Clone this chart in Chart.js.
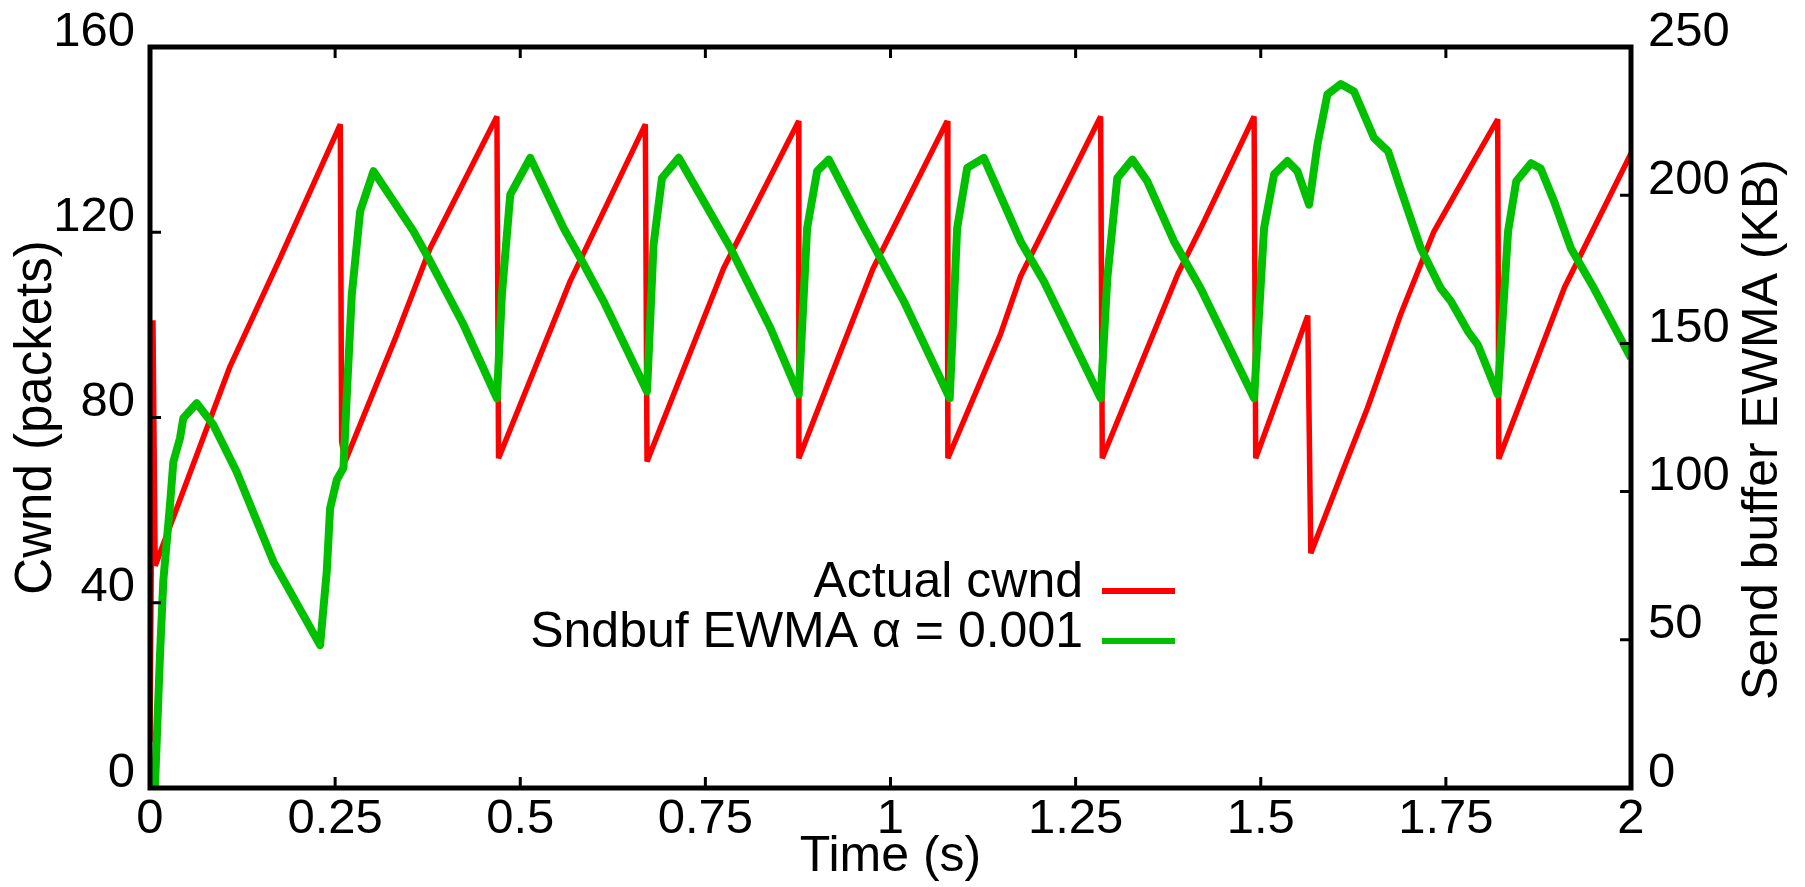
<!DOCTYPE html>
<html>
<head>
  <title>Cwnd vs Sndbuf EWMA</title>
  <script src="https://cdn.jsdelivr.net/npm/chart.js"></script>
  <style>
    body { margin: 0; background: #fff; }
    #contenedor { width: 1805px; height: 887px; }
  </style>
</head>
<body>
  <div id="contenedor">
    <canvas id="myChart"></canvas>
  </div>

  <script>
    // tick labels
    var xTicks = [0, 0.25, 0.5, 0.75, 1, 1.25, 1.5, 1.75, 2];
    var cwndTicks = [0, 40, 80, 120, 160];
    var sndbufTicks = [0, 50, 100, 150, 200, 250];

    // Actual cwnd (packets)
    var cwndTime = [0, 0.004, 0.007, 0.108, 0.1757, 0.257, 0.2588, 0.2635, 0.3333, 0.3784, 0.4685,
      0.4707, 0.5676, 0.6689, 0.6712, 0.7748, 0.8761, 0.8763, 0.976, 1.0766, 1.0775, 1.1486, 1.1757, 1.2838,
      1.286, 1.388, 1.419, 1.491, 1.4932, 1.5635, 1.5676, 1.612, 1.644, 1.689, 1.734, 1.78, 1.82,
      1.8215, 1.91, 2.0];
    var cwnd = [10, 101, 48, 91, 114.4, 143.3, 74.8, 70.5, 97.9, 116.6, 145,
      71.2, 109.5, 143.3, 70.5, 112.3, 144, 71.2, 112, 144, 71.2, 98, 110.5, 145,
      71.2, 111, 120.9, 145, 71.2, 102, 50.7, 69, 82, 102.3, 120.2, 133.2, 144.4,
      71.1, 108, 137];

    // Sndbuf EWMA (KB)
    var sndTime = [0, 0.0068, 0.0135, 0.018, 0.027, 0.0315, 0.0405, 0.045, 0.063, 0.0856, 0.117, 0.1667,
      0.2297, 0.2387, 0.2432, 0.2523, 0.2613, 0.2658, 0.2725, 0.2838, 0.3018, 0.3288, 0.3559, 0.3784,
      0.4234, 0.4685, 0.4752, 0.4865, 0.5135, 0.5586, 0.5811, 0.6126, 0.6712, 0.68, 0.6914, 0.714,
      0.7477, 0.7838, 0.8378, 0.8761, 0.8874, 0.9009, 0.9167, 0.9595, 1.018, 1.08, 1.09, 1.1036,
      1.126, 1.1757, 1.2072, 1.2838, 1.2928, 1.3063, 1.3266, 1.3468, 1.3829, 1.4189, 1.491, 1.5045,
      1.518, 1.536, 1.5495, 1.5653, 1.5766, 1.59, 1.608, 1.626, 1.653, 1.672, 1.689, 1.716, 1.743,
      1.7568, 1.78, 1.793, 1.82, 1.827, 1.834, 1.845, 1.865, 1.878, 1.896, 1.919, 1.95, 2.0];
    var sndbuf = [0, 1, 44.8, 70, 95.5, 110, 118, 124.8, 129.8, 122.5, 106.7, 76.3,
      48.2, 73, 94.3, 104, 108, 132.7, 166.4, 194.6, 208.1, 198, 187.8, 177.7,
      156.3, 131.5, 166.4, 200.2, 212.6, 188.9, 178.8, 164.2, 133.8, 183.3, 205.8, 212.6,
      198, 182.2, 155.2, 132.7, 188.9, 208.1, 212, 191.2, 164.2, 131.5, 188.9, 209.2,
      212.6, 184.4, 170.9, 131.5, 172, 205.8, 212, 204.7, 184.4, 168.5, 131.5, 188.9,
      207, 211.5, 208.1, 196.8, 217.1, 234, 237.5, 235, 219.3, 214.8, 202, 182.2, 168.6,
      164.2, 154, 149.6, 132.8, 159.8, 187.8, 204.7, 210.8, 209, 198, 182, 168.6, 145];

    var FONT = "'Liberation Sans', Arial, sans-serif";
    Chart.defaults.font.family = FONT;
    Chart.defaults.font.size = 49;
    Chart.defaults.color = '#000';

    function pares(xs, ys) {
      var out = [];
      for (var i = 0; i < xs.length; i++) out.push({ x: xs[i], y: ys[i] });
      return out;
    }

    // marco negro y marcas hacia adentro, estilo gnuplot
    var marco = {
      id: 'marco',
      afterDraw: function(chart) {
        var ctx = chart.ctx, a = chart.chartArea;
        var sx = chart.scales.x, sy = chart.scales.y, sy1 = chart.scales.y1;
        ctx.save();
        ctx.strokeStyle = '#000';
        ctx.lineWidth = 3;
        ctx.beginPath();
        xTicks.forEach(function(v) {
          var px = sx.getPixelForValue(v);
          ctx.moveTo(px, a.bottom); ctx.lineTo(px, a.bottom - 11);
          ctx.moveTo(px, a.top); ctx.lineTo(px, a.top + 11);
        });
        cwndTicks.forEach(function(v) {
          var py = sy.getPixelForValue(v);
          ctx.moveTo(a.left, py); ctx.lineTo(a.left + 11, py);
        });
        sndbufTicks.forEach(function(v) {
          var py = sy1.getPixelForValue(v);
          ctx.moveTo(a.right, py); ctx.lineTo(a.right - 11, py);
        });
        ctx.stroke();
        ctx.lineWidth = 5;
        ctx.strokeRect(a.left, a.top, a.right - a.left, a.bottom - a.top);

        // titulo del eje derecho, leido de abajo hacia arriba
        ctx.translate(1763, (sy1.top + sy1.bottom) / 2 + 12);
        ctx.rotate(-Math.PI / 2);
        ctx.font = '50px ' + FONT;
        ctx.fillStyle = '#000';
        ctx.textAlign = 'center';
        ctx.textBaseline = 'middle';
        ctx.fillText('Send buffer EWMA (KB)', 0, 0);
        ctx.restore();
      }
    };

    // leyenda dentro del grafico: texto a la derecha y muestra de linea
    var leyenda = {
      id: 'leyenda',
      afterDraw: function(chart) {
        var ctx = chart.ctx;
        var ds = chart.data.datasets;
        ctx.save();
        ctx.font = '50px ' + FONT;
        ctx.fillStyle = '#000';
        ctx.textAlign = 'right';
        ctx.textBaseline = 'alphabetic';
        for (var i = 0; i < ds.length; i++) {
          var base = 597 + i * 50;
          ctx.fillText(ds[i].label, 1083, base);
          ctx.strokeStyle = ds[i].borderColor;
          ctx.lineWidth = 6;
          ctx.beginPath();
          ctx.moveTo(1102, base - 6);
          ctx.lineTo(1175, base - 6);
          ctx.stroke();
        }
        ctx.restore();
      }
    };

    var ctx = document.getElementById('myChart').getContext('2d');
    var myChart = new Chart(ctx, {
      type: 'line',
      data: {
        datasets: [
          {
            label: 'Actual cwnd',
            data: pares(cwndTime, cwnd),
            yAxisID: 'y',
            borderColor: '#ff0000',
            borderWidth: 5.5,
            borderJoinStyle: 'bevel',
            pointRadius: 0,
            tension: 0,
            order: 2
          },
          {
            label: 'Sndbuf EWMA \u03B1 = 0.001',
            data: pares(sndTime, sndbuf),
            yAxisID: 'y1',
            borderColor: '#00c000',
            borderWidth: 8,
            borderJoinStyle: 'round',
            pointRadius: 0,
            tension: 0,
            order: 1
          }
        ]
      },
      options: {
        responsive: true,
        maintainAspectRatio: false,
        animation: false,
        devicePixelRatio: 1,
        layout: { padding: { top: 47, left: 0, right: 0, bottom: 0 } },
        plugins: {
          legend: { display: false },
          tooltip: { enabled: false }
        },
        scales: {
          x: {
            type: 'linear',
            position: 'bottom',
            min: 0,
            max: 2,
            afterBuildTicks: function(s) { s.ticks = xTicks.map(function(v) { return { value: v }; }); },
            afterFit: function(s) { s.height = 99; },
            grid: { display: false, drawTicks: false },
            border: { display: false },
            ticks: { padding: 2, maxRotation: 0, autoSkip: false, callback: function(v) { return String(v); } },
            title: { display: true, text: 'Time (s)', font: { size: 50 }, padding: { top: 0, bottom: 0 } }
          },
          y: {
            type: 'linear',
            position: 'left',
            min: 0,
            max: 160,
            afterBuildTicks: function(s) { s.ticks = cwndTicks.map(function(v) { return { value: v }; }); },
            afterFit: function(s) { s.width = 150; },
            grid: { display: false, drawTicks: false },
            border: { display: false },
            ticks: { padding: 15, labelOffset: -15, callback: function(v) { return String(v); } },
            title: { display: true, text: 'Cwnd (packets)', font: { size: 51 }, padding: { top: 6, bottom: 0 } }
          },
          y1: {
            type: 'linear',
            position: 'right',
            min: 0,
            max: 250,
            afterBuildTicks: function(s) { s.ticks = sndbufTicks.map(function(v) { return { value: v }; }); },
            afterFit: function(s) { s.width = 174; },
            grid: { display: false, drawTicks: false },
            border: { display: false },
            ticks: { padding: 17, labelOffset: -15, callback: function(v) { return String(v); } },
            title: { display: false }
          }
        }
      },
      plugins: [marco, leyenda]
    });
  </script>
</body>
</html>
